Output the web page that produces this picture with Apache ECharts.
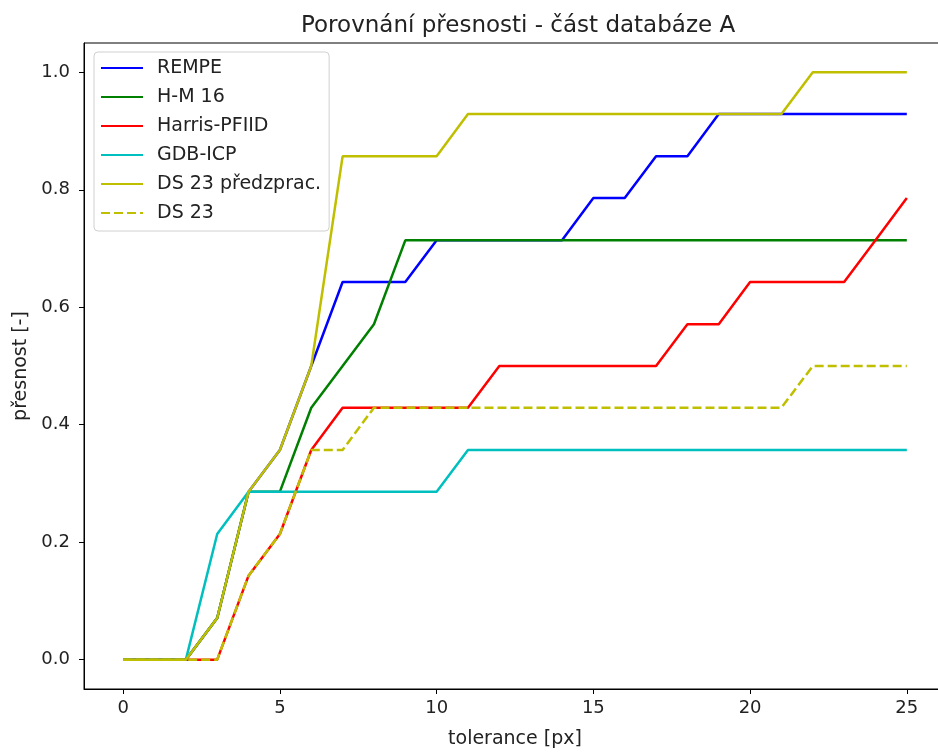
<!DOCTYPE html>
<html style="height: 100%">
<head>
    <meta charset="utf-8">
    <title>Porovnání přesnosti - část databáze A</title>
</head>
<body style="height: 100%; margin: 0; background: #fff; overflow: hidden;">
<!-- the plot frame runs past the right edge of the window, as in the original -->
<div id="container" style="width: 960px; height: 754px"></div>
<script src="https://cdn.jsdelivr.net/npm/echarts@6/dist/echarts.min.js"></script>
<script type="text/javascript">

    // tolerance [px]
    var tolerance = [0, 1, 2, 3, 4, 5, 6, 7, 8, 9, 10, 11, 12, 13, 14, 15, 16, 17, 18, 19, 20, 21, 22, 23, 24, 25];

    var rempe = [0, 0, 0, 0.071, 0.286, 0.357, 0.5, 0.643, 0.643, 0.643, 0.714, 0.714, 0.714, 0.714, 0.714,
        0.786, 0.786, 0.857, 0.857, 0.929, 0.929, 0.929, 0.929, 0.929, 0.929, 0.929];
    var hm16 = [0, 0, 0, 0.071, 0.286, 0.286, 0.429, 0.5, 0.571, 0.714, 0.714, 0.714, 0.714, 0.714, 0.714,
        0.714, 0.714, 0.714, 0.714, 0.714, 0.714, 0.714, 0.714, 0.714, 0.714, 0.714];
    var harris = [0, 0, 0, 0, 0.143, 0.214, 0.357, 0.429, 0.429, 0.429, 0.429, 0.429, 0.5, 0.5, 0.5,
        0.5, 0.5, 0.5, 0.571, 0.571, 0.643, 0.643, 0.643, 0.643, 0.714, 0.786];
    var gdbicp = [0, 0, 0, 0.214, 0.286, 0.286, 0.286, 0.286, 0.286, 0.286, 0.286, 0.357, 0.357, 0.357, 0.357,
        0.357, 0.357, 0.357, 0.357, 0.357, 0.357, 0.357, 0.357, 0.357, 0.357, 0.357];
    var ds23pre = [0, 0, 0, 0.071, 0.286, 0.357, 0.5, 0.857, 0.857, 0.857, 0.857, 0.929, 0.929, 0.929, 0.929,
        0.929, 0.929, 0.929, 0.929, 0.929, 0.929, 0.929, 1.0, 1.0, 1.0, 1.0];
    var ds23 = [0, 0, 0, 0, 0.143, 0.214, 0.357, 0.357, 0.429, 0.429, 0.429, 0.429, 0.429, 0.429, 0.429,
        0.429, 0.429, 0.429, 0.429, 0.429, 0.429, 0.429, 0.5, 0.5, 0.5, 0.5];

    var xTicks = [0, 5, 10, 15, 20, 25];
    var yTicks = [0, 0.2, 0.4, 0.6, 0.8, 1.0];

    var font = 'DejaVu Sans';

    function pairs(values) {
        return tolerance.map(function (t, i) {
            return [t, values[i]];
        });
    }

    function line(name, values, color, dashed) {
        return {
            name: name,
            type: 'line',
            data: pairs(values),
            symbol: 'none',
            animation: false,
            lineStyle: {
                color: color,
                width: 2.5,
                type: dashed ? [9, 4] : 'solid'
            },
            itemStyle: {color: color}
        };
    }

    var dom = document.getElementById("container");
    var myChart = echarts.init(dom);
    var option = {
        backgroundColor: '#fff',
        title: {
            text: 'Porovnání přesnosti - část databáze A',
            left: 296,
            top: 10,
            textStyle: {fontFamily: font, fontSize: 23, fontWeight: 'normal', color: '#222'}
        },
        legend: {
            orient: 'vertical',
            left: 94,
            top: 52,
            padding: [6, 8, 8, 6],
            itemWidth: 42,
            itemHeight: 20,
            itemGap: 9,
            itemStyle: {opacity: 0},
            backgroundColor: 'rgba(255,255,255,0.8)',
            borderColor: '#d0d0d0',
            borderWidth: 1,
            borderRadius: 4,
            textStyle: {fontFamily: font, fontSize: 19, lineHeight: 20, color: '#222', padding: [0, 0, 0, 9]},
            data: ['REMPE', 'H-M 16', 'Harris-PFIID', 'GDB-ICP', 'DS 23 předzprac.', 'DS 23']
        },
        grid: {
            left: 84,
            top: 43,
            width: 862,
            height: 648,
            show: true,
            borderColor: '#000',
            borderWidth: 1,
            backgroundColor: 'transparent'
        },
        xAxis: {
            type: 'value',
            min: -1.25,
            max: 26.25,
            name: 'tolerance [px]',
            nameLocation: 'middle',
            nameGap: 41,
            nameTextStyle: {fontFamily: font, fontSize: 19, color: '#222'},
            axisLine: {show: true, onZero: false, lineStyle: {color: '#000', width: 1}},
            axisTick: {show: true, length: 5, customValues: xTicks, lineStyle: {color: '#000'}},
            axisLabel: {
                customValues: xTicks,
                margin: 10,
                fontFamily: font, fontSize: 18, color: '#222'
            },
            splitLine: {show: false}
        },
        yAxis: {
            type: 'value',
            min: -0.05,
            max: 1.05,
            name: 'přesnost [-]',
            nameLocation: 'middle',
            nameGap: 50,
            nameTextStyle: {fontFamily: font, fontSize: 19, color: '#222'},
            axisLine: {show: true, onZero: false, lineStyle: {color: '#000', width: 1}},
            axisTick: {show: true, length: 5, customValues: yTicks, lineStyle: {color: '#000'}},
            axisLabel: {
                customValues: yTicks,
                margin: 14,
                fontFamily: font, fontSize: 18, color: '#222',
                formatter: function (v) { return v.toFixed(1); }
            },
            splitLine: {show: false}
        },
        series: [
            line('REMPE', rempe, '#0000ff', false),
            line('H-M 16', hm16, '#008000', false),
            line('Harris-PFIID', harris, '#ff0000', false),
            line('GDB-ICP', gdbicp, '#00bfbf', false),
            line('DS 23 předzprac.', ds23pre, '#bfbf00', false),
            line('DS 23', ds23, '#bfbf00', true)
        ]
    };
    myChart.setOption(option, true);

</script>
</body>
</html>
